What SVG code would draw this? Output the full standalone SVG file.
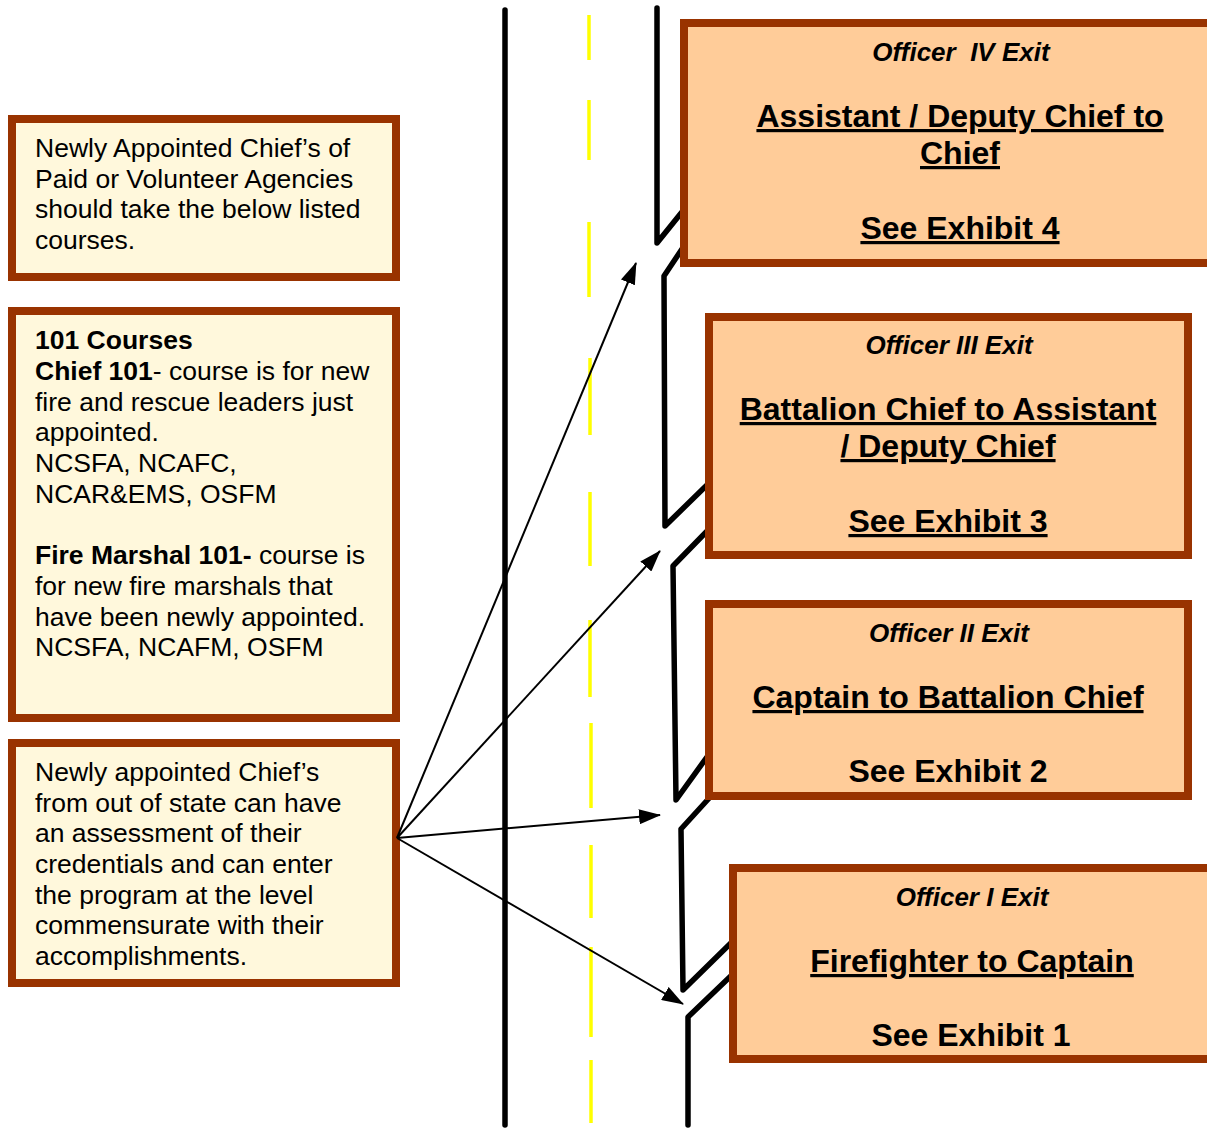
<svg xmlns="http://www.w3.org/2000/svg" width="1207" height="1129" viewBox="0 0 1207 1129">
<style>
.road{fill:none;stroke:#000;stroke-width:5.5;stroke-linecap:round;stroke-linejoin:round}
.dash{stroke:#FFFF00;stroke-width:3.5;fill:none}
.lbox{fill:#FFF8DC;stroke:#993300;stroke-width:8}
.rbox{fill:#FFCC99;stroke:#993300;stroke-width:8}
.lt{font-family:"Liberation Sans",Arial,sans-serif;font-size:26.5px;fill:#000}
.b{font-weight:bold}
.hd{font-family:"Liberation Sans",Arial,sans-serif;font-size:26px;font-weight:bold;font-style:italic;fill:#000;text-anchor:middle}
.tt{font-family:"Liberation Sans",Arial,sans-serif;font-size:32px;font-weight:bold;fill:#000;text-anchor:middle}
.u{text-decoration:underline}
.conn{stroke:#000;stroke-width:2;fill:none}
</style>
<defs>
<marker id="ah" viewBox="0 0 22 15" refX="21" refY="7.5" markerWidth="22" markerHeight="15" markerUnits="userSpaceOnUse" orient="auto">
<path d="M0,0 L22,7.5 L0,15 z" fill="#000"/>
</marker>
</defs>
<rect width="1207" height="1129" fill="#fff"/>
<g id="road">
<line class="road" x1="505" y1="10" x2="505" y2="1125"/>
<g id="centerline">
<line class="dash" x1="589" y1="15" x2="589" y2="60"/>
<line class="dash" x1="589" y1="100" x2="589" y2="160"/>
<line class="dash" x1="589" y1="222" x2="589" y2="297"/>
<line class="dash" x1="590" y1="358" x2="590" y2="435"/>
<line class="dash" x1="590" y1="492" x2="590" y2="566"/>
<line class="dash" x1="590" y1="620" x2="590" y2="697"/>
<line class="dash" x1="591" y1="723" x2="591" y2="808"/>
<line class="dash" x1="591" y1="845" x2="591" y2="918"/>
<line class="dash" x1="591" y1="947" x2="591" y2="1037"/>
<line class="dash" x1="591" y1="1060" x2="591" y2="1123"/>
</g>
<path class="road" d="M657,8 L657,243 L690,202"/>
<path class="road" d="M688,240 L664,276 L665,526 L708,484"/>
<path class="road" d="M712,526 L673,566 L676,800 L712,750"/>
<path class="road" d="M712,795 L681,829 L683,990 L735,939"/>
<path class="road" d="M735,972 L688,1017 L688,1125"/>
</g>
<g id="box-newly-appointed">
<rect class="lbox" x="12" y="119" width="384" height="158"/>
<text class="lt" x="35" y="157">Newly Appointed Chief’s of</text>
<text class="lt" x="35" y="188">Paid or Volunteer Agencies</text>
<text class="lt" x="35" y="218">should take the below listed</text>
<text class="lt" x="35" y="249">courses.</text>
</g>
<g id="box-101-courses">
<rect class="lbox" x="12" y="311" width="384" height="407"/>
<text class="lt b" x="35" y="349">101 Courses</text>
<text class="lt" x="35" y="380"><tspan class="b">Chief 101</tspan>- course is for new</text>
<text class="lt" x="35" y="411">fire and rescue leaders just</text>
<text class="lt" x="35" y="441">appointed.</text>
<text class="lt" x="35" y="472">NCSFA, NCAFC,</text>
<text class="lt" x="35" y="503">NCAR&amp;EMS, OSFM</text>
<text class="lt" x="35" y="564"><tspan class="b">Fire Marshal 101-</tspan> course is</text>
<text class="lt" x="35" y="595">for new fire marshals that</text>
<text class="lt" x="35" y="626">have been newly appointed.</text>
<text class="lt" x="35" y="656">NCSFA, NCAFM, OSFM</text>
</g>
<g id="box-out-of-state">
<rect class="lbox" x="12" y="743" width="384" height="240"/>
<text class="lt" x="35" y="781">Newly appointed Chief’s</text>
<text class="lt" x="35" y="812">from out of state can have</text>
<text class="lt" x="35" y="842">an assessment of their</text>
<text class="lt" x="35" y="873">credentials and can enter</text>
<text class="lt" x="35" y="904">the program at the level</text>
<text class="lt" x="35" y="934">commensurate with their</text>
<text class="lt" x="35" y="965">accomplishments.</text>
</g>
<g id="box-officer-iv">
<rect class="rbox" x="684" y="23" width="530" height="240"/>
<text class="hd" x="961" y="61" xml:space="preserve">Officer  IV Exit</text>
<text class="tt u" x="960" y="127">Assistant / Deputy Chief to</text>
<text class="tt u" x="960" y="164">Chief</text>
<text class="tt u" x="960" y="239">See Exhibit 4</text>
</g>
<g id="box-officer-iii">
<rect class="rbox" x="709" y="317" width="479" height="238"/>
<text class="hd" x="949" y="354">Officer III Exit</text>
<text class="tt u" x="948" y="420">Battalion Chief to Assistant</text>
<text class="tt u" x="948" y="457">/ Deputy Chief</text>
<text class="tt u" x="948" y="532">See Exhibit 3</text>
</g>
<g id="box-officer-ii">
<rect class="rbox" x="709" y="604" width="479" height="192"/>
<text class="hd" x="949" y="642">Officer II Exit</text>
<text class="tt u" x="948" y="708">Captain to Battalion Chief</text>
<text class="tt" x="948" y="782">See Exhibit 2</text>
</g>
<g id="box-officer-i">
<rect class="rbox" x="733" y="868" width="480" height="191"/>
<text class="hd" x="972" y="906">Officer I Exit</text>
<text class="tt u" x="972" y="972">Firefighter to Captain</text>
<text class="tt" x="971" y="1046">See Exhibit 1</text>
</g>
<g id="connectors">
<line class="conn" x1="397" y1="838" x2="636" y2="263" marker-end="url(#ah)"/>
<line class="conn" x1="397" y1="838" x2="660" y2="551" marker-end="url(#ah)"/>
<line class="conn" x1="397" y1="838" x2="660" y2="815" marker-end="url(#ah)"/>
<line class="conn" x1="397" y1="838" x2="683" y2="1004" marker-end="url(#ah)"/>
</g>
</svg>
